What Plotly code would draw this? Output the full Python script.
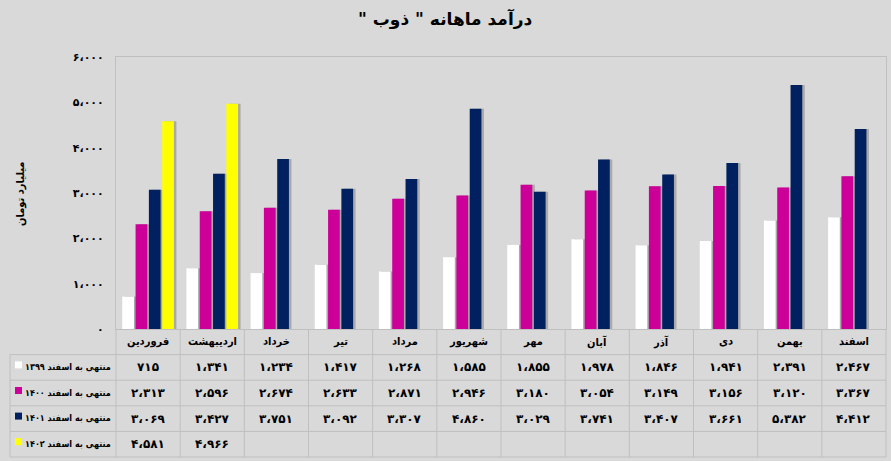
import plotly.graph_objects as go

# monthly revenue of "ذوب" (billion toman), table values
months = ["فروردین", "اردیبهشت", "خرداد", "تیر", "مرداد", "شهریور",
          "مهر", "آبان", "آذر", "دی", "بهمن", "اسفند"]

rev_1399 = [715, 1341, 1234, 1417, 1268, 1585, 1855, 1978, 1846, 1941, 2391, 2467]
rev_1400 = [2313, 2596, 2674, 2633, 2871, 2946, 3180, 3054, 3149, 3156, 3120, 3367]
rev_1401 = [3069, 3427, 3751, 3092, 3307, 4860, 3029, 3741, 3407, 3661, 5382, 4412]
rev_1402 = [4581, 4966]

series_names = ["منتهی به اسفند ۱۳۹۹", "منتهی به اسفند ۱۴۰۰",
                "منتهی به اسفند ۱۴۰۱", "منتهی به اسفند ۱۴۰۲"]
series_colors = ["#ffffff", "#cc0099", "#002060", "#ffff00"]
series_values = [rev_1399, rev_1400, rev_1401, rev_1402]

y_ticks = [0, 1000, 2000, 3000, 4000, 5000, 6000]

FONT = "DejaVu Sans"
FONT_NARROW = "DejaVu Sans Condensed"
BG = "#d9d9d9"
GRID = "#bfbfbf"

# pixel layout of the picture
W, H = 891, 461
L, R, T, B = 116, 5, 57, 132
PW, PH = W - L - R, H - T - B
TABLE_LEFT = 10
ROW_H = 25.6
SHADOW_SHIFT = 2.5 / (PW / len(months))   # ~2.5px drop shadow to the right


def fa(n):
    s = f"{n:,}".replace(",", "،")
    return s.translate(str.maketrans("0123456789", "۰۱۲۳۴۵۶۷۸۹"))


def px_x(px):
    return (px - L) / PW


def px_y(py):
    return (H - B - py) / PH


def bold(size, family=FONT):
    return dict(family=family, size=size, color="black", weight="bold")


fig = go.Figure()
# shadows first (on x, shifted), real bars on x2 drawn above
for name, vals in zip(series_names, series_values):
    fig.add_trace(go.Bar(x=months[:len(vals)], y=vals, xaxis="x", yaxis="y",
                         marker=dict(color="rgba(0,0,0,0.22)", line=dict(width=0)),
                         hoverinfo="skip", showlegend=False))
for name, vals, col in zip(series_names, series_values, series_colors):
    fig.add_trace(go.Bar(x=months[:len(vals)], y=vals, name=name, xaxis="x2", yaxis="y",
                         marker=dict(color=col, line=dict(width=0)),
                         hoverinfo="x+y"))

annotations = []
shapes = []

# title
annotations.append(dict(text='درآمد ماهانه " ذوب "\u200f', xref="paper", yref="paper",
                        x=px_x(445), y=px_y(19), showarrow=False,
                        xanchor="center", yanchor="middle", font=bold(17)))
# y axis title
annotations.append(dict(text="میلیارد تومان", xref="paper", yref="paper",
                        x=px_x(20), y=px_y(194), showarrow=False, textangle=-90,
                        xanchor="center", yanchor="middle", font=bold(11, FONT_NARROW)))

# data table under the chart
top = H - B
header_mid = top + ROW_H / 2
for m in months:
    annotations.append(dict(text=m, x=m, xref="x2", yref="paper", y=px_y(header_mid),
                            showarrow=False, xanchor="center", yanchor="middle",
                            font=bold(11, FONT_NARROW)))

for r, (name, vals, col) in enumerate(zip(series_names, series_values, series_colors)):
    row_mid = top + ROW_H * (r + 1.5)
    annotations.append(dict(text=name, xref="paper", yref="paper", x=px_x(113),
                            y=px_y(row_mid), xanchor="right", yanchor="middle",
                            showarrow=False, font=bold(9, FONT_NARROW)))
    shapes.append(dict(type="rect", xref="paper", yref="paper",
                       x0=px_x(15), x1=px_x(22), y0=px_y(row_mid + 1), y1=px_y(row_mid - 6),
                       fillcolor=col, line=dict(width=0)))
    for m, v in zip(months, vals):
        annotations.append(dict(text=fa(v), x=m, xref="x2", yref="paper", y=px_y(row_mid),
                                showarrow=False, xanchor="center", yanchor="middle",
                                font=bold(12)))

line = dict(color=GRID, width=1)
bottom = top + ROW_H * 5
# horizontal table lines
for r in range(1, 6):
    yy = px_y(top + ROW_H * r)
    shapes.append(dict(type="line", xref="paper", yref="paper", x0=px_x(TABLE_LEFT), x1=1,
                       y0=yy, y1=yy, line=line))
# vertical table lines
for k in range(len(months) - 1):
    shapes.append(dict(type="line", xref="x2", yref="paper", x0=k + 0.5, x1=k + 0.5,
                       y0=px_y(top), y1=px_y(bottom), line=line))
for xx in (0, 1):
    shapes.append(dict(type="line", xref="paper", yref="paper", x0=xx, x1=xx,
                       y0=px_y(top), y1=px_y(bottom), line=line))
shapes.append(dict(type="line", xref="paper", yref="paper", x0=px_x(TABLE_LEFT), x1=px_x(TABLE_LEFT),
                   y0=px_y(top + ROW_H), y1=px_y(bottom), line=line))

n = len(months)
fig.update_layout(
    width=W, height=H,
    margin=dict(l=L, r=R, t=T, b=B),
    paper_bgcolor=BG, plot_bgcolor=BG,
    barmode="group", bargap=0.17, bargroupgap=0.12,
    showlegend=False,
    annotations=annotations, shapes=shapes,
    xaxis=dict(categoryorder="array", categoryarray=months, showticklabels=False,
               range=[-0.5 - SHADOW_SHIFT, n - 0.5 - SHADOW_SHIFT],
               showgrid=False, zeroline=False, showline=False, ticks=""),
    xaxis2=dict(categoryorder="array", categoryarray=months, showticklabels=False,
                overlaying="x", range=[-0.5, n - 0.5],
                showgrid=False, zeroline=False, showline=True, mirror=True,
                linecolor=GRID, linewidth=1, ticks=""),
    yaxis=dict(range=[0, 6000], tickvals=y_ticks, ticktext=[fa(v) for v in y_ticks],
               showgrid=False, zeroline=False, showline=True, mirror=True,
               linecolor=GRID, linewidth=1, ticks="", ticklabelstandoff=9,
               tickfont=bold(11)),
)

# page body has an 8px default margin, drop it so the chart sits at 0,0
fig.write_html("out.html", config={"displayModeBar": False},
               post_script="document.body.style.margin='0';")
